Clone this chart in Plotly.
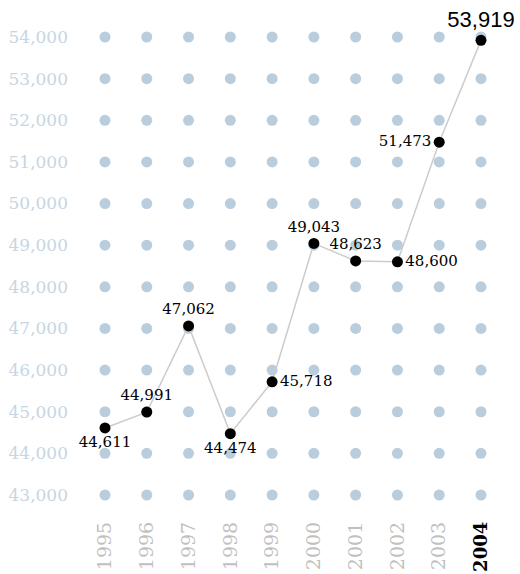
import plotly.graph_objects as go

years = [1995, 1996, 1997, 1998, 1999, 2000, 2001, 2002, 2003, 2004]
values = [44611, 44991, 47062, 44474, 45718, 49043, 48623, 48600, 51473, 53919]
grid_levels = [43000, 44000, 45000, 46000, 47000, 48000, 49000, 50000, 51000, 52000, 53000, 54000]
label_positions = ["bottom center", "top center", "top center", "bottom center", "middle right",
                   "top center", "top center", "middle right", "middle left", "top center"]

gx = [y for y in years for _ in grid_levels]
gy = [v for _ in years for v in grid_levels]

fig = go.Figure()
fig.add_trace(go.Scatter(x=gx, y=gy, mode="markers",
                         marker=dict(size=11, color="#bacddc"),
                         hoverinfo="skip", cliponaxis=False))
fig.add_trace(go.Scatter(x=years, y=values, mode="lines",
                         line=dict(color="#cccccc", width=1.5),
                         hoverinfo="skip", cliponaxis=False))
fig.add_trace(go.Scatter(
    x=years, y=values, mode="markers+text",
    marker=dict(size=11, color="black"),
    text=[f"{v:,}" for v in values],
    textposition=label_positions,
    textfont=dict(
        family=["DejaVu Serif"] * 9 + ["Liberation Sans"],
        size=[15] * 9 + [22],
        color="black"),
    cliponaxis=False))

ticktext = [str(y) for y in years[:-1]] + ["<span style='color:black;font-size:18px'><b>2004</b></span>"]

fig.update_layout(
    width=520, height=574,
    margin=dict(l=75, r=20, t=20, b=60, autoexpand=False),
    paper_bgcolor="white", plot_bgcolor="white",
    showlegend=False,
    xaxis=dict(range=[1994.282, 2004.455], tickvals=years, ticktext=ticktext,
               tickangle=-90, showgrid=False, zeroline=False, showline=False,
               ticks="", ticklabelstandoff=3, automargin=False,
               tickfont=dict(family="DejaVu Serif", size=19, color="#c0c0c0")),
    yaxis=dict(range=[42544, 54408], tickvals=grid_levels,
               ticktext=[f"{v:,}" for v in grid_levels],
               showgrid=False, zeroline=False, showline=False, ticks="",
               automargin=False, ticklabelstandoff=6,
               tickfont=dict(family="DejaVu Serif", size=17, color="#c6d6e3")),
)
fig.write_html("out.html", config={"displayModeBar": False},
               post_script="document.body.style.margin='0';document.body.style.overflow='hidden';")
